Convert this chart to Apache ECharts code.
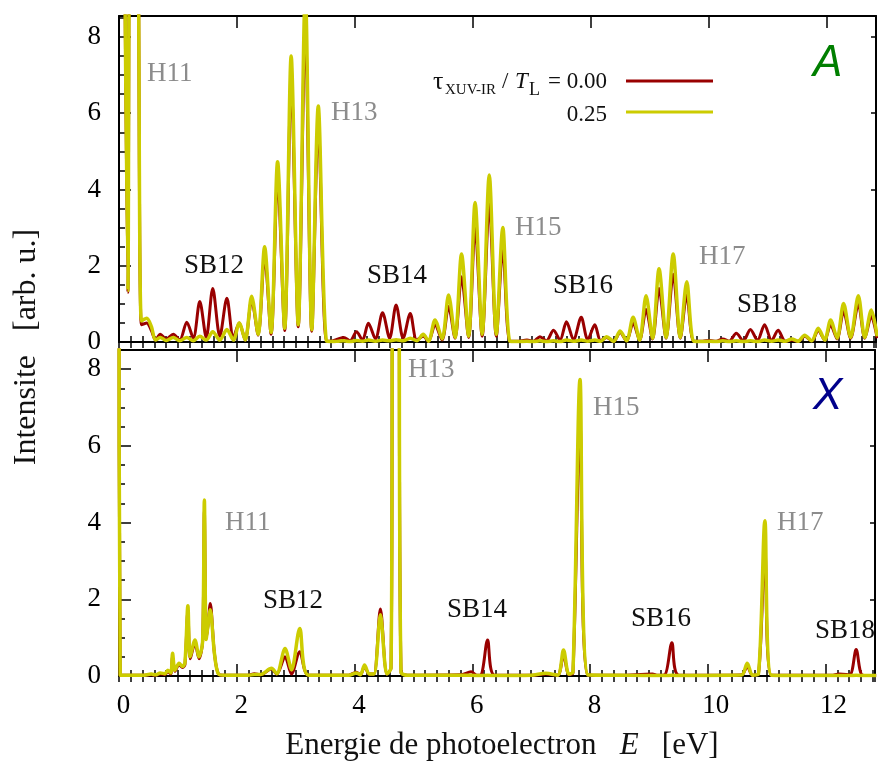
<!DOCTYPE html>
<html><head><meta charset="utf-8">
<script src="https://cdn.jsdelivr.net/npm/echarts@6/dist/echarts.min.js"></script>
<style>html,body{margin:0;padding:0;background:#fff}#c{width:878px;height:771px}</style>
</head><body><div id="c"></div>
<script>
// ---- Panel A (top) ----
const energyA = [0.09,0.15,0.20,0.30,0.38,0.47,0.55,0.62,0.70,0.80,0.92,1.03,1.15,1.26,1.37,1.48,1.59,1.71,1.83,1.94,2.04,2.14,2.25,2.36,2.47,2.58,2.69,2.81,2.92,3.04,3.16,3.27,3.38,3.52,3.62,3.72,3.81,3.92,4.03,4.13,4.23,4.35,4.47,4.59,4.70,4.82,4.94,5.05,5.16,5.25,5.36,5.48,5.59,5.70,5.81,5.93,6.04,6.16,6.28,6.40,6.51,6.63,6.75,6.92,7.03,7.14,7.25,7.37,7.48,7.59,7.71,7.84,7.95,8.07,8.17,8.27,8.39,8.50,8.61,8.72,8.83,8.94,9.05,9.16,9.28,9.40,9.52,9.63,9.75,9.90,10.02,10.13,10.24,10.35,10.47,10.59,10.71,10.83,10.95,11.07,11.18,11.30,11.41,11.52,11.63,11.75,11.86,11.97,12.07,12.18,12.29,12.41,12.54,12.65,12.76,12.86];
const ampA000 = [12,1.3,12,12,0.45,0.5,0.3,0.05,0.2,0.08,0.2,0.05,0.52,0.1,1.06,0.12,1.4,0.15,1.15,0.12,0.5,0.05,1.1,0.18,2.25,0.2,4.3,0.3,6.9,0.4,8.3,0.28,5.7,0.02,0.03,0.08,0.12,0.03,0.27,0.05,0.49,0.08,0.77,0.1,0.97,0.1,0.75,0.05,0.15,0.02,0.45,0.05,0.93,0.1,1.71,0.12,3.02,0.15,3.63,0.15,2.46,0.02,0.02,0.05,0.02,0.14,0.03,0.31,0.05,0.53,0.06,0.65,0.06,0.45,0.03,0.12,0.02,0.25,0.03,0.5,0.05,0.85,0.08,1.4,0.1,1.78,0.1,1.23,0.02,0.02,0.04,0.02,0.08,0.02,0.23,0.03,0.33,0.04,0.45,0.04,0.31,0.02,0.05,0.02,0.15,0.03,0.3,0.05,0.45,0.08,0.8,0.1,1.0,0.1,0.68,0.1];
const ampA025 = [12,1.35,12,12,0.55,0.62,0.4,0.05,0.12,0.04,0.12,0.03,0.12,0.03,0.15,0.05,0.27,0.05,0.33,0.05,0.5,0.05,1.2,0.2,2.5,0.25,4.73,0.36,7.5,0.45,9.2,0.32,6.19,0.02,0.01,0.02,0.03,0.01,0.04,0.02,0.05,0.02,0.05,0.03,0.06,0.03,0.1,0.03,0.2,0.02,0.58,0.08,1.23,0.12,2.31,0.15,3.66,0.2,4.38,0.2,3.0,0.02,0.01,0.02,0.01,0.03,0.01,0.03,0.01,0.05,0.02,0.05,0.02,0.05,0.02,0.14,0.02,0.29,0.03,0.65,0.05,1.21,0.1,1.92,0.12,2.31,0.12,1.58,0.02,0.01,0.02,0.01,0.03,0.01,0.03,0.01,0.03,0.01,0.05,0.02,0.05,0.02,0.08,0.02,0.18,0.03,0.36,0.05,0.58,0.1,1.01,0.12,1.21,0.12,0.84,0.15];

// ---- Panel X (bottom) ----
const energyX = [0.00,0.02,0.40,0.55,0.62,0.70,0.78,0.83,0.88,0.91,0.95,1.02,1.08,1.12,1.17,1.21,1.29,1.36,1.42,1.45,1.48,1.51,1.55,1.62,1.69,1.80,2.20,2.30,2.40,2.59,2.68,2.82,2.93,3.07,3.22,3.90,4.03,4.10,4.17,4.25,4.33,4.44,4.55,4.62,4.66,4.74,4.79,4.90,5.80,5.98,6.08,6.15,6.26,6.38,7.00,7.25,7.45,7.55,7.64,7.71,7.83,7.96,8.50,9.06,9.15,9.27,9.39,9.51,10.40,10.58,10.67,10.76,10.86,10.97,11.08,12.10,12.23,12.41,12.52,12.63,12.86];
const ampX000 = [12,0.02,0.02,0.03,0.02,0.05,0.04,0.12,0.05,0.5,0.12,0.3,0.22,0.3,1.7,0.45,0.85,0.45,0.9,4.3,0.95,1.3,1.89,0.6,0.05,0.02,0.02,0.06,0.03,0.18,0.05,0.5,0.05,0.63,0.02,0.02,0.1,0.03,0.25,0.05,0.05,1.75,0.05,0.2,12,12,0.1,0.02,0.03,0.11,0.02,0.03,0.94,0.02,0.02,0.05,0.02,0.55,0.04,0.08,6.57,0.03,0.02,0.05,0.02,0.03,0.87,0.02,0.02,0.03,0.25,0.02,0.05,3.27,0.02,0.02,0.05,0.03,0.69,0.02,0.01];
const ampX025 = [12,0.02,0.02,0.05,0.03,0.08,0.06,0.15,0.08,0.59,0.15,0.33,0.25,0.35,1.83,0.5,0.94,0.5,0.9,4.59,0.95,1.3,1.73,0.6,0.05,0.02,0.02,0.04,0.04,0.2,0.06,0.72,0.16,1.24,0.02,0.02,0.08,0.03,0.29,0.05,0.05,1.6,0.05,0.2,12,12,0.1,0.02,0.02,0.02,0.01,0.01,0.02,0.01,0.02,0.07,0.02,0.68,0.05,0.1,7.73,0.03,0.02,0.01,0.01,0.01,0.02,0.01,0.02,0.03,0.33,0.02,0.05,4.05,0.02,0.01,0.01,0.01,0.02,0.01,0.01];

const xTickLabels = ['0','2','4','6','8','10','12'];
const yTickLabels = ['0','2','4','6','8'];
const delayNames = ['0.00','0.25'];

const SERIF = '"Liberation Serif", "Times New Roman", serif';
const SANS = '"Liberation Sans", Arial, sans-serif';
const RED = '#990000', YEL = '#cccc00', GRAY = '#8c8c8c', INK = '#111';
const XMAX = 12.84;
const YMAX = [8.55, 8.5];
const FS = 27;

const frame = {show: true, onZero: false, lineStyle: {color: '#000', width: 2}};
const tickStyle = {color: '#000', width: 1.5};

function xLabel(v) {
  const s = String(v);
  if (!xTickLabels.includes(s)) return '';
  return (s.length > 1 ? '{w|' : '{n|') + s + '}';
}

function xAxesFor(g, showLabels) {
  const base = {gridIndex: g, type: 'value', min: 0, max: XMAX, splitLine: {show: false}, axisLabel: {show: false}};
  return [
    Object.assign({}, base, {position: 'bottom', interval: 2, axisLine: frame,
      axisTick: {show: true, inside: true, length: 12, lineStyle: tickStyle},
      axisLabel: {show: showLabels, margin: 16, fontSize: FS, fontFamily: SERIF, color: '#000',
        formatter: xLabel,
        rich: {n: {fontSize: FS, fontFamily: SERIF, color: '#000', padding: [0, 0, 0, 9]},
               w: {fontSize: FS, fontFamily: SERIF, color: '#000', padding: [0, 0, 0, 16]}}}}),
    Object.assign({}, base, {position: 'bottom', interval: 0.2, axisLine: {show: false},
      axisTick: {show: true, inside: true, length: 6, lineStyle: tickStyle}}),
    Object.assign({}, base, {position: 'top', interval: 2, axisLine: frame,
      axisTick: {show: true, inside: true, length: 12, lineStyle: tickStyle}}),
    Object.assign({}, base, {position: 'top', interval: 0.2, axisLine: {show: false},
      axisTick: {show: true, inside: true, length: 6, lineStyle: tickStyle}})
  ];
}
function yAxesFor(g) {
  const base = {gridIndex: g, type: 'value', min: 0, max: YMAX[g], splitLine: {show: false}, axisLabel: {show: false}};
  return [
    Object.assign({}, base, {position: 'left', interval: 2, axisLine: frame,
      axisTick: {show: true, inside: true, length: 12, lineStyle: tickStyle},
      axisLabel: {show: true, margin: 18, fontSize: FS, fontFamily: SERIF, color: '#000',
        formatter: v => yTickLabels.includes(String(v)) ? String(v) : ''}}),
    Object.assign({}, base, {position: 'left', interval: 0.5, axisLine: {show: false},
      axisTick: {show: true, inside: true, length: 6, lineStyle: tickStyle}}),
    Object.assign({}, base, {position: 'right', interval: 2, axisLine: frame,
      axisTick: {show: true, inside: true, length: 5, lineStyle: tickStyle}})
  ];
}

const pairs = (xs, ys) => xs.map((x, i) => [x, ys[i]]);
function lineSeries(name, xi, yi, data, color, width, z) {
  return {name, type: 'line', xAxisIndex: xi, yAxisIndex: yi, data, showSymbol: false, symbol: 'none',
    smooth: 0.3, clip: true, z, lineStyle: {color, width, join: 'round'}, itemStyle: {color}, emphasis: {disabled: true}};
}

function txt(x, y, text, opts) {
  return {type: 'text', x, y, silent: true, style: Object.assign({
    text, fill: INK, fontSize: FS, fontFamily: SERIF, align: 'left', verticalAlign: 'middle'}, opts || {})};
}

const LFS = 23;
const annotations = [
  // top panel
  txt(147, 74, 'H11', {fill: GRAY}),
  txt(331, 113, 'H13', {fill: GRAY}),
  txt(184, 266, 'SB12'),
  txt(367, 276, 'SB14'),
  txt(515, 228, 'H15', {fill: GRAY}),
  txt(553, 286, 'SB16'),
  txt(699, 257, 'H17', {fill: GRAY}),
  txt(737, 305, 'SB18'),
  txt(813, 64, 'A', {fill: '#007f00', fontFamily: SANS, fontStyle: 'italic', fontSize: 44}),
  // bottom panel
  txt(408, 370, 'H13', {fill: GRAY}),
  txt(225, 523, 'H11', {fill: GRAY}),
  txt(263, 601, 'SB12'),
  txt(447, 610, 'SB14'),
  txt(593, 408, 'H15', {fill: GRAY}),
  txt(631, 619, 'SB16'),
  txt(777, 523, 'H17', {fill: GRAY}),
  txt(815, 631, 'SB18'),
  txt(813, 397, 'X', {fill: '#00008b', fontFamily: SANS, fontStyle: 'italic', fontSize: 44}),
  // legend
  txt(433, 82, 'τ', {fontSize: 26}),
  txt(445, 90, 'XUV-IR', {fontSize: 15}),
  txt(502, 82, '/', {fontSize: LFS}),
  txt(515, 82, 'T', {fontSize: LFS, fontStyle: 'italic'}),
  txt(529, 90, 'L', {fontSize: 18}),
  txt(607, 82, '= ' + delayNames[0], {fontSize: LFS, align: 'right'}),
  txt(607, 115, delayNames[1], {fontSize: LFS, align: 'right'}),
  {type: 'line', silent: true, shape: {x1: 626, y1: 81, x2: 713, y2: 81}, style: {stroke: RED, lineWidth: 3}},
  {type: 'line', silent: true, shape: {x1: 626, y1: 112, x2: 713, y2: 112}, style: {stroke: YEL, lineWidth: 3}},
  // axis titles
  {type: 'text', x: 502, y: 746, silent: true, style: {text: '{n|Energie de photoelectron   }{i|E}{n|   [eV]}', align: 'center', verticalAlign: 'middle',
    rich: {n: {fontSize: 31, fontFamily: SERIF, fill: INK}, i: {fontSize: 31, fontFamily: SERIF, fontStyle: 'italic', fill: INK}}}},
  {type: 'text', x: 27, y: 347, rotation: Math.PI / 2, silent: true, style: {text: 'Intensite   [arb. u.]', fontSize: 32, fontFamily: SERIF, fill: INK, align: 'center', verticalAlign: 'middle'}}
];

const chart = echarts.init(document.getElementById('c'), null, {renderer: 'canvas'});
chart.setOption({
  animation: false,
  backgroundColor: '#fff',
  grid: [
    {left: 119, top: 16, width: 757, height: 326},
    {left: 119, top: 350, width: 757, height: 326}
  ],
  xAxis: xAxesFor(0, false).concat(xAxesFor(1, true)),
  yAxis: yAxesFor(0).concat(yAxesFor(1)),
  series: [
    lineSeries(delayNames[0], 0, 0, pairs(energyA, ampA000), RED, 3, 2),
    lineSeries(delayNames[1], 0, 0, pairs(energyA, ampA025), YEL, 3.5, 3),
    lineSeries(delayNames[0], 4, 3, pairs(energyX, ampX000), RED, 3, 2),
    lineSeries(delayNames[1], 4, 3, pairs(energyX, ampX025), YEL, 3.5, 3)
  ],
  graphic: annotations
});
</script>
</body></html>
